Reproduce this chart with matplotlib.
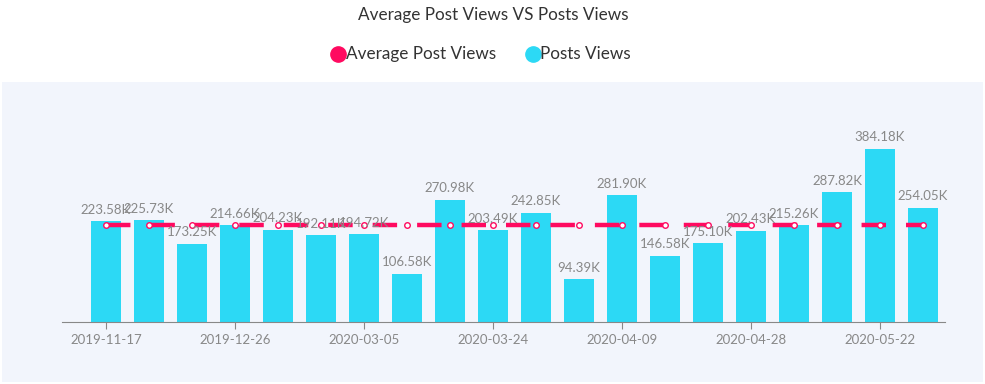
import matplotlib
matplotlib.use("Agg")
import matplotlib.pyplot as plt
from matplotlib.patches import Rectangle
import numpy as np

plt.rcParams['font.family'] = ['Lato', 'DejaVu Sans']

# data
dates = ["2019-11-17", "", "", "2019-12-26", "", "", "2020-03-05", "", "", "2020-03-24",
         "", "", "2020-04-09", "", "", "2020-04-28", "", "", "2020-05-22", ""]
post_views = [223.58, 225.73, 173.25, 214.66, 204.23, 192.11, 194.72, 106.58, 270.98, 203.49,
              242.85, 94.39, 281.90, 146.58, 175.10, 202.43, 215.26, 287.82, 384.18, 254.05]
avg_views = [214.69] * len(post_views)

bar_color = "#2cd9f5"
line_color = "#ff0a60"
text_gray = "#888888"

fig = plt.figure(figsize=(9.85, 3.84), dpi=100)
fig.patches.append(Rectangle((2 / 985, 2 / 384), 981 / 985, 300 / 384,
                             transform=fig.transFigure, facecolor="#f2f5fc",
                             edgecolor="none", zorder=-5))

ax = fig.add_axes([62 / 985, 62 / 384, 883 / 985, 222 / 384])
ax.patch.set_alpha(0)

x = np.arange(len(post_views))
ax.bar(x, post_views, width=0.7, color=bar_color, zorder=2)
for xi, v in zip(x, post_views):
    ax.annotate(f"{v:.2f}K", (xi, v), xytext=(0, 4), textcoords="offset points",
                ha="center", va="bottom", fontsize=9.5, color=text_gray, zorder=4)

ax.plot(x, avg_views, color=line_color, lw=3.2, dashes=(5.5, 4.5), zorder=3,
        marker="o", ms=4, mfc="white", mec=line_color, mew=1)

ax.set_xlim(-1.02, 19.51)
ax.set_ylim(0, 493)

ticks = [i for i, d in enumerate(dates) if d]
ax.set_xticks(ticks)
ax.set_xticklabels([dates[i] for i in ticks], fontsize=9.5, color=text_gray)
ax.tick_params(axis="x", length=5, color=text_gray, pad=4)
ax.set_yticks([])
for side in ["top", "right", "left"]:
    ax.spines[side].set_visible(False)
ax.spines["bottom"].set_color(text_gray)

fig.text(493 / 985, 1 - 15 / 384, "Average Post Views VS Posts Views", ha="center",
         va="center", fontsize=12.3, color="#333333")

# legend
fig.add_artist(plt.Line2D([338 / 985], [1 - 54 / 384], marker="o", ms=11, color=line_color,
                          transform=fig.transFigure, ls="none"))
fig.text(346 / 985, 1 - 54 / 384, "Average Post Views", ha="left", va="center",
         fontsize=12.3, color="#333333")
fig.add_artist(plt.Line2D([533 / 985], [1 - 54 / 384], marker="o", ms=11, color=bar_color,
                          transform=fig.transFigure, ls="none"))
fig.text(540 / 985, 1 - 54 / 384, "Posts Views", ha="left", va="center",
         fontsize=12.3, color="#333333")

fig.savefig("out.png", dpi=100)
